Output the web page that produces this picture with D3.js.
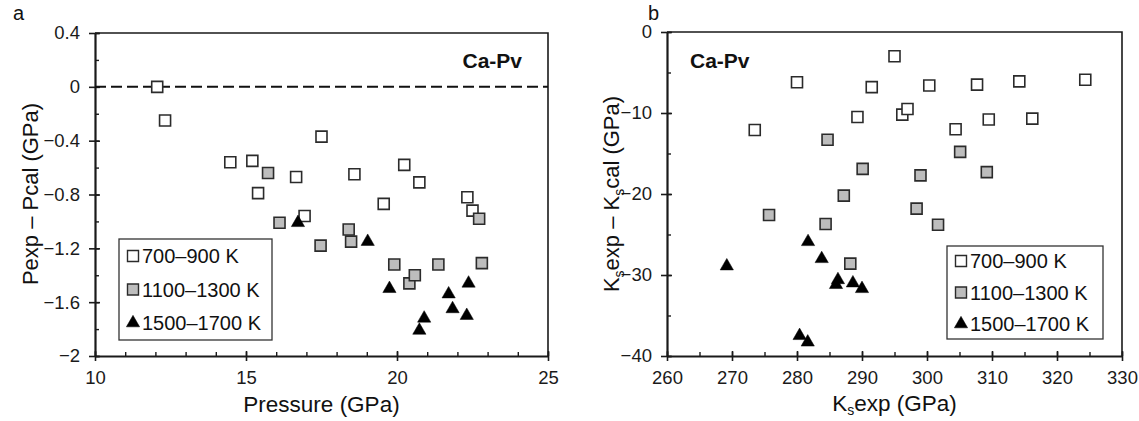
<!DOCTYPE html>
<html>
<head>
<meta charset="utf-8">
<script src="https://cdn.jsdelivr.net/npm/d3@7"></script>
<style>
  body { margin: 0; background: #fff; }
  svg { font-family: "Liberation Sans", Arial, sans-serif; }
  .axis path, .axis line { stroke: #1a1a1a; }
  .axis text { font-size: 18.5px; fill: #1a1a1a; }
</style>
</head>
<body>
<div id="chart"></div>
<script>
// series labels
const tempLabels = ['700\u2013900 K', '1100\u20131300 K', '1500\u20131700 K'];

// panel a: [pressure (GPa), Pexp - Pcal (GPa)]
const pressLow = [[12.06, 0.0], [12.32, -0.25], [14.48, -0.56], [15.21, -0.55], [15.40, -0.79],
  [16.66, -0.67], [16.94, -0.96], [17.50, -0.37], [18.59, -0.65], [19.56, -0.87],
  [20.24, -0.58], [20.74, -0.71], [22.33, -0.82], [22.50, -0.92]];
const pressMid = [[15.73, -0.64], [16.11, -1.01], [17.47, -1.18], [18.40, -1.06], [18.48, -1.15],
  [19.91, -1.32], [20.41, -1.46], [20.59, -1.40], [21.37, -1.32], [22.72, -0.98], [22.81, -1.31]];
const pressHigh = [[16.72, -1.01], [19.03, -1.15], [19.75, -1.50], [20.74, -1.81], [20.90, -1.72],
  [21.71, -1.54], [21.84, -1.65], [22.31, -1.70], [22.37, -1.46]];

// panel b: [Ks exp (GPa), Ks exp - Ks cal (GPa)]
const ksLow = [[273.5, -12.1], [280.0, -6.2], [289.3, -10.5], [291.5, -6.8], [295.0, -3.0],
  [296.2, -10.2], [297.0, -9.5], [300.35, -6.6], [304.4, -12.0], [307.7, -6.5],
  [309.5, -10.8], [314.2, -6.1], [316.2, -10.7], [324.35, -5.9]];
const ksMid = [[275.7, -22.6], [284.4, -23.7], [284.7, -13.3], [287.2, -20.2], [288.2, -28.6],
  [290.1, -16.9], [298.4, -21.8], [299.0, -17.7], [301.7, -23.8], [305.1, -14.8], [309.2, -17.3]];
const ksHigh = [[269.2, -28.9], [280.4, -37.5], [281.65, -38.3], [281.7, -25.9], [283.8, -28.0],
  [286.0, -31.2], [286.3, -30.6], [288.6, -31.0], [290.0, -31.7]];

// axis ticks
const pressTicks = [10, 15, 20, 25];
const dpTicks = [0.4, 0, -0.4, -0.8, -1.2, -1.6, -2];
const ksTicks = [260, 270, 280, 290, 300, 310, 320, 330];
const dksTicks = [0, -10, -20, -30, -40];

const W = 1139, H = 421;
const svg = d3.select('#chart').append('svg').attr('width', W).attr('height', H);

const markerStyles = [
  { shape: d3.symbolSquare, fill: '#ffffff' },
  { shape: d3.symbolSquare, fill: '#bdbdbd' },
  { shape: d3.symbolTriangle, fill: '#000000' }
];

function fmt(d) {
  return String(Math.round(d * 10) / 10).replace('-', '\u2212');
}

function symbolPath(i) {
  const s = markerStyles[i];
  const size = s.shape === d3.symbolSquare ? 11 * 11 : 76;
  return d3.symbol().type(s.shape).size(size)();
}

function drawPanel(cfg) {
  const x = d3.scaleLinear().domain(cfg.xDomain).range(cfg.xRange);
  const y = d3.scaleLinear().domain(cfg.yDomain).range(cfg.yRange);
  const g = svg.append('g');
  const [x0, x1] = cfg.xRange, [y0, y1] = cfg.yRange;

  // frame top/right
  g.append('path')
    .attr('d', `M${x0},${y1}H${x1}V${y0}`)
    .attr('fill', 'none').attr('stroke', '#1a1a1a').attr('stroke-width', 1.6);

  // minor + inner ticks
  g.append('g').attr('class', 'axis').attr('transform', `translate(0,${y0})`)
    .call(d3.axisBottom(x).tickValues(d3.range(cfg.xDomain[0], cfg.xDomain[1] + 1e-9, cfg.xMinor))
      .tickSize(-4).tickFormat(''))
    .call(a => a.select('.domain').remove())
    .selectAll('line').attr('stroke-width', 1.4);
  g.append('g').attr('class', 'axis').attr('transform', `translate(${x0},0)`)
    .call(d3.axisLeft(y).tickValues(d3.range(cfg.yDomain[0], cfg.yDomain[1] + 1e-9, cfg.yMinor))
      .tickSize(-4).tickFormat(''))
    .call(a => a.select('.domain').remove())
    .selectAll('line').attr('stroke-width', 1.4);

  // major ticks + labels
  const xa = g.append('g').attr('class', 'axis').attr('transform', `translate(0,${y0})`)
    .call(d3.axisBottom(x).tickValues(cfg.xTicks).tickSize(5).tickSizeOuter(0).tickPadding(10)
      .tickFormat(fmt));
  xa.select('.domain').attr('stroke-width', 2.2);
  xa.selectAll('line').attr('stroke-width', 1.6).attr('y1', -5);
  const ya = g.append('g').attr('class', 'axis').attr('transform', `translate(${x0},0)`)
    .call(d3.axisLeft(y).tickValues(cfg.yTicks).tickSize(6).tickSizeOuter(0).tickPadding(9)
      .tickFormat(fmt));
  ya.select('.domain').attr('stroke-width', 2.2);
  ya.selectAll('line').attr('stroke-width', 1.6).attr('x1', 5);

  if (cfg.zeroLine) {
    g.append('line')
      .attr('x1', x0).attr('x2', x1).attr('y1', y(0)).attr('y2', y(0))
      .attr('stroke', '#111').attr('stroke-width', 2).attr('stroke-dasharray', '11,5');
  }

  // points
  cfg.series.forEach((data, i) => {
    g.append('g').selectAll('path')
      .data(data).enter().append('path')
      .attr('d', symbolPath(i))
      .attr('transform', d => `translate(${x(d[0])},${y(d[1])})`)
      .attr('fill', markerStyles[i].fill)
      .attr('stroke', i === 2 ? '#000' : '#2b2b2b')
      .attr('stroke-width', i === 2 ? 0.5 : 1.6);
  });

  // Ca-Pv tag
  g.append('text')
    .attr('x', cfg.tag[0]).attr('y', cfg.tag[1])
    .attr('text-anchor', cfg.tag[2])
    .attr('font-size', 21).attr('font-weight', 'bold').attr('fill', '#111')
    .text('Ca-Pv');

  // legend
  const lg = cfg.legend;
  g.append('rect')
    .attr('x', lg.x).attr('y', lg.y).attr('width', lg.w).attr('height', lg.h)
    .attr('fill', '#fff').attr('stroke', '#333').attr('stroke-width', 1.3);
  tempLabels.forEach((t, i) => {
    const ry = lg.y + lg.top + i * lg.step;
    g.append('path')
      .attr('d', symbolPath(i))
      .attr('transform', `translate(${lg.x + 14},${ry})`)
      .attr('fill', markerStyles[i].fill)
      .attr('stroke', i === 2 ? '#000' : '#2b2b2b')
      .attr('stroke-width', i === 2 ? 0.5 : 1.4);
    g.append('text')
      .attr('x', lg.x + 23).attr('y', ry)
      .attr('dy', '0.36em')
      .attr('font-size', 20).attr('fill', '#111')
      .text(t);
  });

  // panel letter
  g.append('text').attr('x', cfg.letter[0]).attr('y', cfg.letter[1])
    .attr('font-size', 20).attr('fill', '#111').text(cfg.letter[2]);

  return { g, x, y };
}

// panel a
const pa = drawPanel({
  xDomain: [10, 25], yDomain: [-2, 0.4],
  xRange: [95, 548], yRange: [356, 33],
  xTicks: pressTicks, yTicks: dpTicks, xMinor: 1, yMinor: 0.2,
  zeroLine: true,
  series: [pressLow, pressMid, pressHigh],
  tag: [522, 68, 'end'],
  legend: { x: 119, y: 239, w: 153, h: 101, top: 17, step: 33.5 },
  letter: [13, 20, 'a']
});
pa.g.append('text')
  .attr('x', (95 + 548) / 2).attr('y', 412)
  .attr('text-anchor', 'middle').attr('font-size', 22.5).attr('fill', '#111')
  .text('Pressure (GPa)');
pa.g.append('text')
  .attr('transform', 'translate(38,194) rotate(-90)')
  .attr('text-anchor', 'middle').attr('font-size', 22).attr('fill', '#111')
  .text('Pexp \u2013 Pcal (GPa)');

// panel b
const pb = drawPanel({
  xDomain: [260, 330], yDomain: [-40, 0],
  xRange: [667, 1122], yRange: [356, 32],
  xTicks: ksTicks, yTicks: dksTicks, xMinor: 5, yMinor: 5,
  zeroLine: false,
  series: [ksLow, ksMid, ksHigh],
  tag: [690, 68, 'start'],
  legend: { x: 947, y: 246, w: 156, h: 93, top: 15, step: 31.5 },
  letter: [648, 20, 'b']
});
const xt = pb.g.append('text')
  .attr('x', (667 + 1122) / 2).attr('y', 411)
  .attr('text-anchor', 'middle').attr('font-size', 22.5).attr('fill', '#111');
xt.append('tspan').text('K');
xt.append('tspan').attr('font-size', 14).attr('dy', 4).text('s');
xt.append('tspan').attr('dy', -4).text('exp (GPa)');

const yt = pb.g.append('text')
  .attr('transform', 'translate(619,194) rotate(-90)')
  .attr('text-anchor', 'middle').attr('font-size', 22).attr('fill', '#111');
yt.append('tspan').text('K');
yt.append('tspan').attr('font-size', 14).attr('dy', 5).text('s');
yt.append('tspan').attr('dy', -5).text('exp \u2013 K');
yt.append('tspan').attr('font-size', 14).attr('dy', 5).text('s');
yt.append('tspan').attr('dy', -5).text('cal (GPa)');
</script>
</body>
</html>
